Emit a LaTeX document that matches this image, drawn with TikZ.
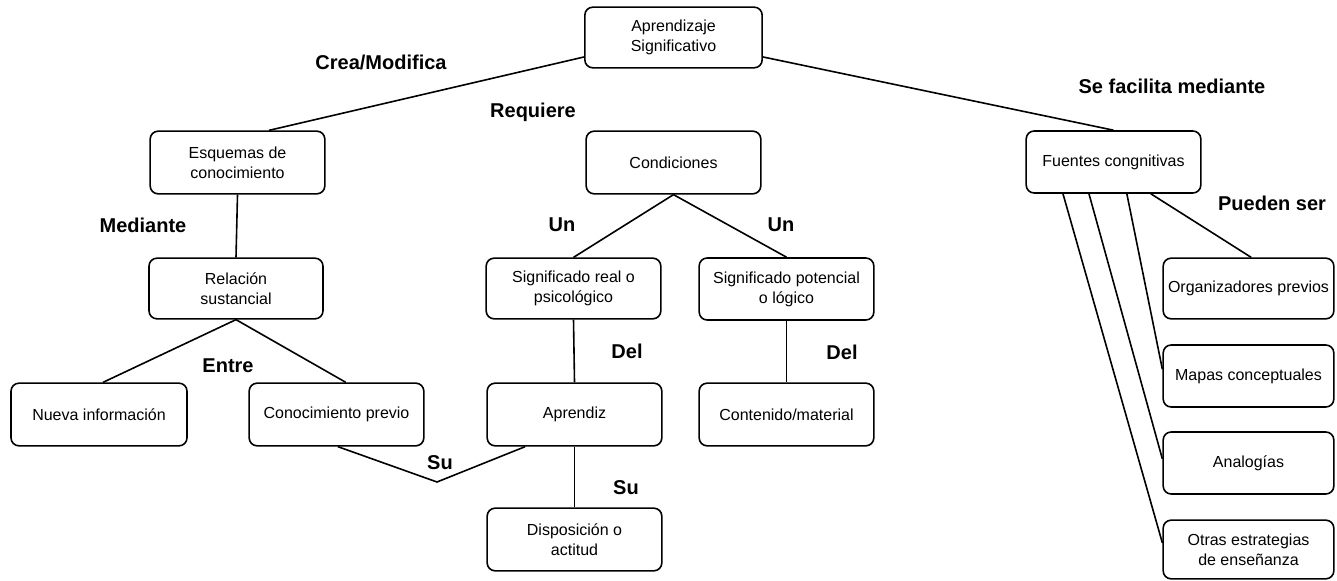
\documentclass[tikz,border=0pt]{standalone}
\usepackage{fontspec}
\setmainfont{Liberation Sans}
\begin{document}
\begin{tikzpicture}[x=0.75pt,y=-0.75pt,
  bx/.style={draw, rounded corners=6pt, line width=1.2pt, minimum width=131pt, minimum height=46.5pt, align=center, inner sep=1pt, font=\fontsize{12}{15}\selectfont},
  bxn/.style={bx, minimum width=128pt},
  lbl/.style={font=\fontsize{15}{18}\selectfont\bfseries, inner sep=0pt},
  ln/.style={line width=1.2pt}]
\useasboundingbox (0,0) rectangle (1337,581);
% boxes
\node[bx, minimum width=133pt, minimum height=45.5pt] (apr) at (673.5,37.5) {Aprendizaje\\Significativo};
\node[bx, minimum height=47pt] (esq) at (237.5,162.5) {Esquemas de\\conocimiento};
\node[bx, minimum width=130.5pt, minimum height=45.5pt] (rel) at (236,288.5) {Relación\\sustancial};
\node[bx, minimum height=47pt] (cond) at (673.5,162.5) {Condiciones};
\node[bx, minimum height=45.5pt] (sreal) at (573.5,288.5) {Significado real o\\psicológico};
\node[bx, minimum height=46.5pt] (spot) at (786.5,289) {Significado potencial\\o lógico};
\node[bx, minimum height=46.5pt] (fue) at (1113.5,162) {Fuentes congnitivas};
\node[bxn, minimum height=45.5pt] (org) at (1248.5,288.5) {Organizadores previos};
\node[bxn, minimum height=46.5pt] (map) at (1248.5,376) {Mapas conceptuales};
\node[bxn, minimum height=46.5pt] (ana) at (1248.5,463) {Analogías};
\node[bxn, minimum height=44pt] (otr) at (1248.5,549.5) {Otras estrategias\\de enseñanza};
\node[bx, minimum width=132pt, minimum height=47pt] (nue) at (99,414.5) {Nueva información};
\node[bx, minimum height=47pt] (con) at (336.5,414.5) {Conocimiento previo};
\node[bx, minimum height=47pt] (apz) at (574.5,414.5) {Aprendiz};
\node[bx, minimum height=47pt] (dis) at (574.5,539.5) {Disposición o\\actitud};
\node[bx, minimum height=47pt] (cont) at (786.5,414.5) {Contenido/material};
\coordinate (v) at (437,482);
% connectors
\draw[ln] ([yshift=-14.6pt]apr.west) -- ([xshift=23.6pt]esq.north);
\draw[ln] ([yshift=-14.6pt]apr.east) -- (fue.north);
\draw[ln] (esq.south) -- (rel.north);
\draw[ln] (rel.south) -- ([xshift=3pt]nue.north);
\draw[ln] (rel.south) -- ([xshift=7pt]con.north);
\draw[ln] (cond.south) -- (sreal.north);
\draw[ln] (cond.south) -- (spot.north);
\draw[ln] (sreal.south) -- (apz.north);
\draw[ln] (spot.south) -- (cont.north);
\draw[ln] (apz.south) -- (dis.north);
\draw[ln] ([xshift=1pt]con.south) -- (v) -- ([xshift=-37pt]apz.south);
\draw[ln] ([xshift=28pt]fue.south) -- ([xshift=2pt]org.north);
\draw[ln] ([xshift=10pt]fue.south) -- ([yshift=5pt]map.west);
\draw[ln] ([xshift=-18.4pt]fue.south) -- ([yshift=3pt]ana.west);
\draw[ln] ([xshift=-37.9pt]fue.south) -- ([yshift=4.9pt]otr.west);
% labels
\node[lbl] (l1) at (381,62) {Crea/Modifica};
\node[lbl] (l2) at (533,112) {Requiere};
\node[lbl] (l3) at (143,225) {Mediante};
\node[lbl] (l4) at (562,225) {Un};
\node[lbl] (l5) at (781,225) {Un};
\node[lbl] (l6) at (1172,86) {Se facilita mediante};
\node[lbl] (l7) at (1272,203) {Pueden ser};
\node[lbl] (l8) at (228,366) {Entre};
\node[lbl] (l9) at (627,351) {Del};
\node[lbl] (l10) at (842,352) {Del};
\node[lbl] (l11) at (440,463) {Su};
\node[lbl] (l12) at (626,488) {Su};
\end{tikzpicture}
\end{document}
